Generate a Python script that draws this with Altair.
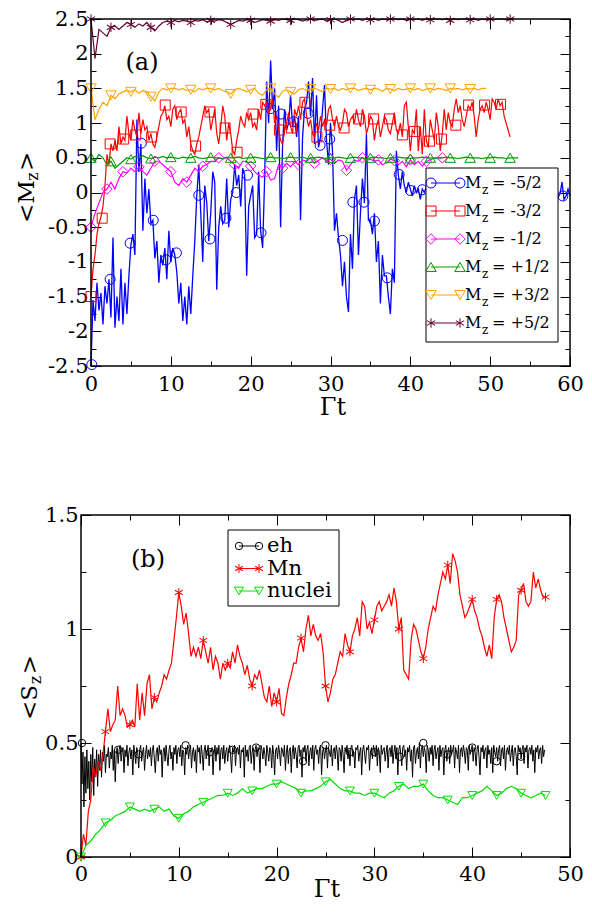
import altair as alt
import numpy as np
import pandas as pd

FONT = "DejaVu Serif"

# ===================== panel (a) data =====================
A_FINE = 0.25   # sampling step of the noisy series
A_STEP = 0.5    # sampling step of the smooth series

a_blue = [
    -2.5, -1.55, -1.85, -1.3,   -1.7, -1.45, -1.9, -1.35,   -1.6, -1.25, -1.8, -0.65,
    -1.95, -1.5, -1.85, -1.1,   -1.9, -1.3, -1.75, -1.2,    -0.75, -0.6, -0.9, 1.05,
    0.3, 0.7, -0.55, 0.2,       -0.3, 0.05, -0.45, -0.4,    -0.95, -0.7, -1.3, -0.9,
    -1.05, -0.8, -1.25, -0.55,  -1.0, -0.8, -0.9, -1.15,    -1.6, -1.3, -1.85, -1.5,
    -1.9, -1.35, -1.75, -1.2,   -0.7, -0.05, 0.4, -0.3,     -1.0, 0.1, -0.15, -0.7,
    -0.3, 0.3, 0.15, -1.4,      -0.5, -0.2, -0.45, -0.4,    0.2, -0.5, -0.1, 0.0,
    0.4, 0.1, 0.25, -0.2,       0.35, 0.25, -1.2, -0.2,     -0.05, 0.1, -0.65, -0.6,
    0.3, -0.55, -0.8, 0.2,      1.6, 1.0, 1.9, 1.2,         1.5, 0.6, 1.25, -0.5,
    0.7, 1.2, 0.9, 1.0,         1.4, 0.95, 1.1, 0.8,        1.1, -0.4, 0.8, 1.2,
    1.3, 1.6, 1.1, 1.65,        0.7, 1.4, 0.65, 0.8,        1.2, 1.55, 0.75, 0.4,
    1.0, 0.6, -0.55, -0.3,      -0.65, -0.9, -1.35, -1.0,   -1.5, -1.72, -0.6, -1.1,
    -0.1, 0.1, -0.9, -0.3,      0.2, -0.15, 0.85, -0.4,     -0.4, -0.6, -0.3, -1.0,
    -0.7, -1.6, -0.9, -1.2,     -1.2, -1.5, -1.75, -1.1,    -1.3, 0.6, 0.25, 0.05,
    0.3, 0.1, 0.0, 0.15,        0.05, -0.05, 0.1, 0.0,      0.05, -0.1, 0.05, 0.0,
    0.08, -0.04, 0.02, 0.06,    -0.02, 0.04, 0.0, -0.06,    0.03, 0.0, -0.04, 0.02,
    0.0, 0.05, -0.03, 0.01,     -0.05, 0.02, 0.0, -0.03,    0.02, -0.02, 0.04, 0.0,
    -0.04, 0.01, -0.02, 0.03,   0.0, -0.05, 0.02, -0.01,    0.03, -0.02, 0.0, -0.04,
    0.01, -0.03, 0.02, 0.0,     -0.02, 0.03, -0.04, 0.0,    0.02, -0.01, 0.0, -0.03,
    0.01, -0.04, 0.02, -0.02,   0.0, -0.03, 0.01, -0.05,    -0.02, 0.0, -0.04, -0.01,
    -0.05, -0.02, -0.06, -0.03, -0.04, 0.0, -0.07, -0.02,   0.15, -0.1, -0.05, 0.05,
    -0.05,
]
a_blue_mk_t = [0.1, 2.4, 4.9, 6.3, 7.8, 9.4, 10.7, 13.5, 14.9, 16.9, 18.2, 19.6, 21.3,
               22.5, 23.8, 25.4, 27.2, 28.7, 29.9, 31.5, 32.8, 34.2, 35.5, 37.1, 38.6,
               40.0, 41.5, 59.1]
a_blue_mk_v = [-2.48, -1.25, -0.73, 0.71, -0.4, -0.97, -0.87, -0.04, -0.67, -0.37, 0.0,
               0.25, -0.58, 1.21, 1.13, 1.02, 1.14, 0.68, 0.77, -0.69, -0.14, -0.14,
               -0.41, -1.23, 0.26, 0.03, 0.04, -0.05]

a_red = [
    -1.5, -1.1, -0.9, -0.6,     -0.45, -0.35, -0.2, 0.1,    0.55, 0.4, 0.7, 0.6,
    0.75, 0.6, 0.95, 0.7,       0.8, 0.75, 1.1, 0.85,       0.75, 1.05, 0.9, 0.8,
    1.15, 0.85, 1.05, 0.9,      0.95, 0.75, 0.85, 0.7,      0.65, 0.8, 0.95, 1.1,
    1.15, 1.25, 1.05, 1.1,      0.95, 1.2, 1.25, 1.05,      1.15, 1.2, 1.0, 1.05,
    0.8, 0.95, 0.7, 0.6,        0.55, 0.7, 0.8, 0.95,       1.1, 1.25, 1.15, 1.2,
    0.9, 1.05, 1.2, 0.85,       0.7, 0.95, 1.25, 1.1,       0.75, 1.0, 0.85, 0.6,
    0.55, 0.75, 0.9, 1.1,       1.0, 0.95, 1.15, 1.05,      1.15, 0.95, 1.0, 0.9,
    1.2, 1.05, 1.3, 1.25,       1.3, 1.15, 1.2, 1.35,       1.0, 1.1, 0.9, 0.75,
    0.7, 0.9, 1.0, 1.15,        0.95, 0.85, 1.2, 1.1,       1.25, 1.05, 1.3, 1.35,
    1.1, 0.95, 1.05, 0.85,      0.8, 1.0, 0.9, 1.1,         0.95, 1.05, 0.97, 1.2,
    1.25, 1.05, 0.95, 1.1,      0.95, 0.9, 1.0, 1.2,        1.15, 0.95, 1.05, 1.1,
    1.0, 1.2, 1.05, 0.95,       1.2, 1.1, 0.85, 0.95,       1.1, 1.05, 0.75, 0.95,
    1.05, 0.8, 0.95, 1.1,       1.05, 0.9, 0.85, 1.0,       1.15, 0.9, 0.85, 1.0,
    0.8, 1.25, 1.3, 0.95,       0.6, 0.9, 0.85, 1.2,        0.6, 0.95, 0.55, 1.2,
    0.75, 0.65, 1.05, 0.9,      0.75, 1.15, 0.95, 0.6,      0.85, 1.2, 0.9, 1.15,
    1.0, 0.95, 1.2, 1.35,       1.15, 1.25, 1.05, 0.95,     1.1, 1.25, 1.2, 1.3,
    1.1, 0.8, 1.05, 1.2,        1.25, 1.15, 1.3, 1.2,       1.05, 1.35, 1.3, 1.2,
    1.35, 1.25, 1.3, 1.1,       1.0, 0.9, 0.8,
]
a_red_mk_t = [0.0, 1.4, 2.4, 4.1, 5.6, 7.6, 9.3, 11.3, 13.1, 14.9, 16.8, 18.3, 20.3, 21.9,
              23.6, 25.1, 26.8, 28.3, 29.9, 31.7, 33.5, 35.4, 37.4, 39.0, 40.5, 42.4,
              43.9, 45.7, 47.3, 49.3, 51.3]
a_red_mk_v = [-1.5, -0.37, 0.7, 0.77, 0.83, 0.8, 1.26, 1.16, 0.67, 1.16, 0.93, 0.58, 1.13,
              1.27, 0.9, 0.93, 1.3, 0.8, 0.97, 0.93, 1.06, 1.06, 1.06, 0.83, 0.88, 0.74,
              0.77, 0.97, 1.26, 1.26, 1.27]

a_magenta = [
    -0.5, -0.3, -0.15, 0.0, 0.05, 0.15, 0.05, 0.2, 0.3, 0.28,
    0.35, 0.3, 0.37, 0.3, 0.25, 0.35, 0.45, 0.45, 0.4, 0.35,
    0.3, 0.15, 0.1, 0.2, 0.15, 0.25, 0.35, 0.3, 0.38, 0.4,
    0.45, 0.45, 0.5, 0.48, 0.5, 0.45, 0.4, 0.35, 0.45, 0.45,
    0.38, 0.3, 0.25, 0.22, 0.3, 0.18, 0.2, 0.4, 0.35, 0.42,
    0.37, 0.45, 0.4, 0.47, 0.45, 0.5, 0.42, 0.46, 0.5, 0.45,
    0.48, 0.42, 0.47, 0.45, 0.32, 0.4, 0.47, 0.45, 0.5, 0.46,
    0.48, 0.45, 0.47, 0.4, 0.43, 0.48, 0.46, 0.4, 0.45, 0.37,
    0.47, 0.4, 0.45, 0.38, 0.45, 0.47, 0.5, 0.5, 0.5,
]
a_green = [
    0.5, 0.45, 0.55, 0.5, 0.4, 0.45, 0.35, 0.4, 0.45, 0.5,
    0.48, 0.52, 0.5, 0.53, 0.5, 0.49, 0.51, 0.5, 0.52, 0.5,
    0.51, 0.5, 0.49, 0.51, 0.5, 0.5, 0.52, 0.5, 0.49, 0.5,
    0.51, 0.5, 0.5, 0.49, 0.51, 0.5, 0.5, 0.51, 0.49, 0.5,
    0.5, 0.51, 0.5, 0.49, 0.5, 0.51, 0.5, 0.5, 0.49, 0.5,
    0.51, 0.5, 0.5, 0.51, 0.49, 0.5, 0.5, 0.51, 0.5, 0.49,
    0.5, 0.5, 0.51, 0.5, 0.49, 0.5, 0.51, 0.5, 0.5, 0.49,
    0.5, 0.51, 0.5, 0.5, 0.49, 0.5, 0.5, 0.51, 0.5, 0.5,
    0.49, 0.5, 0.5, 0.51, 0.5, 0.5, 0.49, 0.5, 0.5, 0.51,
    0.5, 0.5, 0.49, 0.5, 0.51, 0.5, 0.5, 0.5, 0.49, 0.5,
    0.5, 0.51, 0.5, 0.5, 0.49, 0.5, 0.5, 0.5,
]
a_orange = [
    1.5, 1.05, 1.2, 1.3, 1.25, 1.4, 1.35, 1.42, 1.45, 1.47,
    1.45, 1.48, 1.43, 1.47, 1.45, 1.38, 1.32, 1.45, 1.5, 1.48,
    1.5, 1.5, 1.48, 1.5, 1.47, 1.48, 1.45, 1.5, 1.48, 1.5,
    1.5, 1.48, 1.5, 1.47, 1.45, 1.42, 1.48, 1.5, 1.48, 1.45,
    1.48, 1.5, 1.43, 1.4, 1.48, 1.5, 1.42, 1.37, 1.46, 1.48,
    1.45, 1.42, 1.48, 1.5, 1.47, 1.49, 1.5, 1.48, 1.45, 1.5,
    1.49, 1.5, 1.47, 1.5, 1.48, 1.5, 1.5, 1.47, 1.49, 1.5,
    1.48, 1.5, 1.49, 1.46, 1.5, 1.49, 1.47, 1.5, 1.48, 1.49,
    1.5, 1.48, 1.5, 1.47, 1.49, 1.5, 1.48, 1.5, 1.49, 1.47,
    1.5, 1.49, 1.5, 1.48, 1.5, 1.49, 1.5, 1.48, 1.5, 1.5,
]
a_purple = [
    2.5, 1.93, 2.35, 2.3, 2.25, 2.38, 2.4, 2.35, 2.4, 2.45,
    2.42, 2.38, 2.43, 2.4, 2.45, 2.38, 2.33, 2.4, 2.45, 2.47,
    2.45, 2.48, 2.46, 2.48, 2.47, 2.45, 2.48, 2.47, 2.49, 2.46,
    2.48, 2.47, 2.49, 2.48, 2.45, 2.42, 2.45, 2.48, 2.47, 2.49,
    2.48, 2.45, 2.47, 2.49, 2.48, 2.47, 2.49, 2.48, 2.5, 2.49,
    2.48, 2.5, 2.49, 2.47, 2.49, 2.5, 2.48, 2.49, 2.5, 2.47,
    2.49, 2.5, 2.48, 2.45, 2.48, 2.5, 2.49, 2.5, 2.48, 2.5,
    2.49, 2.5, 2.48, 2.5, 2.49, 2.5, 2.5, 2.49, 2.5, 2.48,
    2.5, 2.49, 2.5, 2.48, 2.5, 2.49, 2.5, 2.5, 2.49, 2.5,
    2.48, 2.5, 2.49, 2.5, 2.5, 2.49, 2.5, 2.48, 2.5, 2.49,
    2.5, 2.49, 2.5, 2.5, 2.49, 2.5, 2.5,
]
a_labels = ["= -5/2", "= -3/2", "= -1/2", "= +1/2", "= +3/2", "= +5/2"]
a_x_major = [0, 10, 20, 30, 40, 50, 60]
a_x_minor = [5, 15, 25, 35, 45, 55]
a_y_major = [-2.5, -2, -1.5, -1, -0.5, 0, 0.5, 1, 1.5, 2, 2.5]
a_y_minor = [-2.25, -1.75, -1.25, -0.75, -0.25, 0.25, 0.75, 1.25, 1.75, 2.25]

# ===================== panel (b) data =====================
B_EH = 0.1
B_MN = 0.25
B_NU = 0.5
b_eh = [
    0.5, 0.32, 0.46, 0.22, 0.44, 0.28, 0.47, 0.3, 0.42, 0.25,
    0.45, 0.33, 0.48, 0.27, 0.43, 0.36, 0.47, 0.31, 0.45, 0.38,
    0.47, 0.35, 0.46, 0.42, 0.49, 0.37, 0.45, 0.44, 0.48, 0.39,
    0.46, 0.43, 0.49, 0.38, 0.47, 0.33, 0.45, 0.48, 0.41, 0.47,
    0.49, 0.42, 0.46, 0.48, 0.37, 0.47, 0.44, 0.49, 0.4, 0.46,
    0.48, 0.43, 0.47, 0.36, 0.49, 0.45, 0.41, 0.48, 0.46, 0.39,
    0.47, 0.49, 0.42, 0.46, 0.48, 0.38, 0.45, 0.49, 0.43, 0.47,
    0.44, 0.48, 0.4, 0.47, 0.49, 0.43, 0.37, 0.46, 0.48, 0.42,
    0.49, 0.45, 0.47, 0.35, 0.46, 0.48, 0.42, 0.49, 0.44, 0.4,
    0.47, 0.49, 0.43, 0.46, 0.38, 0.48, 0.45, 0.49, 0.41, 0.47,
    0.48, 0.44, 0.49, 0.4, 0.47, 0.46, 0.36, 0.48, 0.45, 0.49,
    0.43, 0.47, 0.49, 0.39, 0.46, 0.48, 0.42, 0.47, 0.37, 0.49,
    0.46, 0.48, 0.41, 0.49, 0.45, 0.38, 0.47, 0.49, 0.43, 0.46,
    0.49, 0.4, 0.47, 0.46, 0.48, 0.36, 0.45, 0.49, 0.42, 0.48,
    0.45, 0.49, 0.38, 0.47, 0.48, 0.43, 0.49, 0.41, 0.46, 0.48,
    0.42, 0.47, 0.49, 0.44, 0.37, 0.48, 0.46, 0.49, 0.4, 0.47,
    0.48, 0.45, 0.49, 0.39, 0.47, 0.46, 0.48, 0.35, 0.49, 0.44,
    0.47, 0.42, 0.48, 0.49, 0.41, 0.46, 0.48, 0.38, 0.47, 0.49,
    0.44, 0.48, 0.46, 0.37, 0.49, 0.47, 0.43, 0.48, 0.45, 0.4,
    0.49, 0.46, 0.42, 0.48, 0.47, 0.39, 0.49, 0.45, 0.36, 0.47,
    0.48, 0.43, 0.49, 0.46, 0.4, 0.48, 0.47, 0.44, 0.49, 0.38,
    0.46, 0.49, 0.41, 0.47, 0.48, 0.37, 0.46, 0.49, 0.43, 0.48,
    0.45, 0.39, 0.48, 0.49, 0.44, 0.47, 0.35, 0.48, 0.46, 0.49,
    0.42, 0.47, 0.49, 0.4, 0.46, 0.48, 0.43, 0.49, 0.38, 0.47,
    0.49, 0.45, 0.47, 0.41, 0.48, 0.49, 0.36, 0.46, 0.48, 0.43,
    0.47, 0.49, 0.39, 0.48, 0.46, 0.44, 0.49, 0.4, 0.47, 0.48,
    0.43, 0.49, 0.46, 0.38, 0.48, 0.47, 0.42, 0.49, 0.45, 0.37,
    0.48, 0.46, 0.49, 0.43, 0.47, 0.4, 0.48, 0.49, 0.44, 0.46,
    0.39, 0.48, 0.47, 0.49, 0.42, 0.46, 0.48, 0.36, 0.47, 0.49,
    0.45, 0.41, 0.48, 0.47, 0.49, 0.38, 0.46, 0.48, 0.43, 0.49,
    0.47, 0.44, 0.49, 0.4, 0.48, 0.46, 0.37, 0.49, 0.45, 0.47,
    0.48, 0.42, 0.46, 0.49, 0.39, 0.47, 0.48, 0.44, 0.49, 0.41,
    0.46, 0.49, 0.43, 0.48, 0.36, 0.47, 0.49, 0.45, 0.4, 0.48,
    0.49, 0.44, 0.47, 0.38, 0.48, 0.46, 0.49, 0.42, 0.47, 0.35,
    0.48, 0.49, 0.41, 0.46, 0.48, 0.43, 0.5, 0.39, 0.47, 0.49,
    0.44, 0.48, 0.46, 0.37, 0.49, 0.47, 0.42, 0.48, 0.45, 0.49,
    0.4, 0.47, 0.49, 0.43, 0.46, 0.48, 0.38, 0.49, 0.44, 0.47,
    0.48, 0.36, 0.47, 0.49, 0.42, 0.46, 0.48, 0.41, 0.49, 0.45,
    0.47, 0.49, 0.39, 0.48, 0.46, 0.43, 0.49, 0.37, 0.47, 0.48,
    0.44, 0.49, 0.46, 0.41, 0.48, 0.47, 0.38, 0.49, 0.45, 0.47,
    0.49, 0.42, 0.48, 0.46, 0.4, 0.47, 0.49, 0.44, 0.36, 0.48,
    0.46, 0.49, 0.43, 0.47, 0.48, 0.39, 0.49, 0.45, 0.47, 0.41,
    0.48, 0.37, 0.49, 0.46, 0.44, 0.48, 0.42, 0.47, 0.49, 0.4,
    0.47, 0.48, 0.43, 0.49, 0.38, 0.46, 0.48, 0.45, 0.49, 0.42,
    0.46, 0.49, 0.4, 0.47, 0.48, 0.44, 0.36, 0.49, 0.46, 0.48,
    0.43, 0.47, 0.49, 0.41, 0.48, 0.46, 0.49, 0.39, 0.47, 0.48,
    0.45, 0.49, 0.42, 0.47, 0.37, 0.48, 0.46, 0.49, 0.43, 0.47,
    0.48, 0.41, 0.49, 0.44, 0.47,
]
b_eh_mk_t = [0.1, 3.8, 5.9, 10.7, 13.2, 15.5, 17.9, 22.7, 25.0, 27.5, 30.0, 32.6, 35.0,
             37.5, 40.0, 42.5, 45.0]
b_eh_mk_v = [0.5, 0.47, 0.45, 0.49, 0.46, 0.47, 0.48, 0.42, 0.49, 0.46, 0.46, 0.44, 0.5,
             0.45, 0.48, 0.42, 0.44]
b_mn = [
    0.0, 0.1, 0.05, 0.2,     0.25, 0.4, 0.35, 0.42,    0.38, 0.45, 0.55, 0.65,
    0.55, 0.58, 0.6, 0.75,   0.62, 0.65, 0.62, 0.57,   0.58, 0.6, 0.57, 0.76,
    0.6, 0.72, 0.62, 0.76,   0.8, 0.65, 0.7, 0.68,     0.72, 0.75, 0.8, 0.78,
    0.82, 0.85, 0.95, 1.05,  1.16, 1.1, 1.02, 1.07,    0.98, 0.88, 0.92, 0.88,
    0.92, 0.87, 0.95, 0.9,   0.85, 0.92, 0.82, 0.88,   0.85, 0.78, 0.85, 0.82,
    0.85, 0.83, 0.9, 0.85,   0.93, 0.88, 0.85, 0.8,    0.84, 0.78, 0.75, 0.8,
    0.78, 0.82, 0.76, 0.7,   0.68, 0.75, 0.66, 0.72,   0.68, 0.74, 0.63, 0.62,
    0.7, 0.76, 0.8, 0.85,    0.85, 0.92, 0.96, 0.9,    1.0, 1.06, 0.97, 1.02,
    0.97, 0.95, 0.98, 0.9,   0.75, 0.68, 0.72, 0.78,   0.8, 0.85, 0.9, 0.88,
    0.98, 0.93, 0.9, 0.97,   1.0, 1.05, 0.97, 1.12,    1.1, 1.0, 1.03, 0.98,
    1.04, 1.1, 1.12, 1.08,   1.1, 1.12, 1.15, 1.1,     1.18, 1.12, 1.0, 1.05,
    0.82, 0.8, 0.78, 0.95,   1.02, 1.0, 0.95, 0.9,     0.87, 0.92, 1.0, 1.05,
    1.1, 1.08, 1.15, 1.2,    1.25, 1.22, 1.28, 1.2,    1.33, 1.3, 1.25, 1.15,
    1.1, 1.05, 1.07, 1.1,    1.13, 1.08, 1.05, 1.0,    0.97, 0.92, 0.88, 0.93,
    0.87, 1.05, 1.13, 1.15,  1.12, 1.05, 1.0, 0.95,    0.9, 0.92, 0.95, 1.15,
    1.17, 1.2, 1.12, 1.1,    1.12, 1.25, 1.18, 1.22,   1.17, 1.14, 1.14,
]
b_nuclei = [
    0.0, 0.05, 0.07, 0.1, 0.12, 0.15, 0.16, 0.18, 0.19, 0.2,
    0.22, 0.21, 0.2, 0.21, 0.2, 0.21, 0.22, 0.2, 0.21, 0.18,
    0.17, 0.19, 0.2, 0.22, 0.23, 0.24, 0.25, 0.26, 0.27, 0.27,
    0.28, 0.27, 0.28, 0.3, 0.28, 0.29, 0.3, 0.3, 0.31, 0.32,
    0.32, 0.33, 0.32, 0.31, 0.3, 0.28, 0.29, 0.29, 0.3, 0.31,
    0.33, 0.34, 0.32, 0.3, 0.29, 0.29, 0.28, 0.28, 0.27, 0.28,
    0.28, 0.27, 0.26, 0.28, 0.29, 0.31, 0.32, 0.3, 0.31, 0.31,
    0.32, 0.29, 0.27, 0.26, 0.26, 0.25, 0.24, 0.23, 0.26, 0.26,
    0.27, 0.28, 0.29, 0.31, 0.29, 0.27, 0.28, 0.3, 0.31, 0.3,
    0.28, 0.27, 0.26, 0.27, 0.28, 0.27,
]
b_labels = ["eh", "Mn", "nuclei"]
b_x_major = [0, 10, 20, 30, 40, 50]
b_x_minor = [5, 15, 25, 35, 45]
b_y_major = [0, 0.5, 1, 1.5]
b_y_minor = [0.25, 0.75, 1.25]

# ===================== styles / layout =====================
A_COLORS = ["#0000ff", "#ff0000", "#ff00ff", "#009a00", "#ffa500", "#660033"]
A_SHAPES = ["circle", "square", "diamond", "triangle-up", "triangle-down", "star"]
A_SIZES = [100, 100, 110, 110, 110, 90]
B_COLORS = ["#000000", "#ff0000", "#00e000"]
B_SHAPES = ["circle", "star", "triangle-down"]
B_SIZES = [55, 80, 80]
STAR_ANGLES = [90, 30, 330]

W, H = 576, 896                      # whole drawing, pixels
A_X, A_Y = [83, 562], [358, 11]      # panel (a) plot-area pixel ranges
B_X, B_Y = [73, 562], [849, 507]     # panel (b) plot-area pixel ranges
TICK, MTICK = 10, 5
LAB_FS = 21

ONE = pd.DataFrame({"k": [0]})


def sdf(vals, step):
    return pd.DataFrame({"t": np.arange(len(vals)) * step, "v": vals})


def scales(xdom, ydom, xr, yr):
    return (alt.Scale(domain=xdom, range=xr, nice=False, zero=False),
            alt.Scale(domain=ydom, range=yr, nice=False, zero=False))


def line(df, xs, ys, color, w=1.2):
    return alt.Chart(df).mark_line(color=color, strokeWidth=w).encode(
        x=alt.X("t:Q", scale=xs, axis=None), y=alt.Y("v:Q", scale=ys, axis=None))


def _shapes(shape):
    return [("stroke", a) for a in STAR_ANGLES] if shape == "star" else [(shape, 0)]


def marks(df, xs, ys, color, shape, size):
    out = []
    for shp, ang in _shapes(shape):
        kw = dict(color=color, shape=shp, size=size, filled=False, opacity=1, strokeWidth=1)
        if ang:
            kw["angle"] = ang
        out.append(alt.Chart(df).mark_point(**kw).encode(
            x=alt.X("t:Q", scale=xs, axis=None), y=alt.Y("v:Q", scale=ys, axis=None)))
    return out


def legend_marks(x, y, color, shape, size):
    out = []
    for shp, ang in _shapes(shape):
        kw = dict(color=color, shape=shp, size=size, filled=False, opacity=1, strokeWidth=1)
        if ang:
            kw["angle"] = ang
        out.append(alt.Chart(ONE).mark_point(**kw).encode(x=alt.value(x), y=alt.value(y)))
    return out


def axes(xs, ys, xr, yr, xdom, ydom, xmaj, xmin, ymaj, ymin, lpad):
    """Inward ticks on all four sides, drawn with axes moved inside the plot."""
    base = alt.Chart(pd.DataFrame({"t": [xdom[0]], "v": [ydom[0]]})).mark_point(opacity=0)
    lab = dict(labelFont=FONT, labelFontSize=LAB_FS, labelColor="black",
               labelExpr="'' + datum.value", labelFlush=False, labelOverlap=False)
    com = dict(domain=False, grid=False, tickColor="black", tickWidth=1, title=None)
    left, right = xr
    bot, top = yr
    out = []
    for size, labelled in ((TICK, True), (MTICK, False)):
        xv = xmaj if labelled else xmin
        yv = ymaj if labelled else ymin
        extra = lab if labelled else dict(labels=False)
        out.append(base.encode(
            x=alt.X("t:Q", scale=xs, axis=alt.Axis(
                orient="bottom", values=xv, tickSize=size, offset=(bot - size) - H,
                labelPadding=lpad, **extra, **com)),
            y=alt.Y("v:Q", scale=ys, axis=alt.Axis(
                orient="left", values=yv, tickSize=size, offset=-(left + size),
                labelPadding=3, **extra, **com))))
        out.append(base.encode(
            x=alt.X("t:Q", scale=xs, axis=alt.Axis(
                orient="top", values=xv, tickSize=size, offset=-(top + size),
                labels=False, **com)),
            y=alt.Y("v:Q", scale=ys, axis=alt.Axis(
                orient="right", values=yv, tickSize=size, offset=(right - size) - W,
                labels=False, **com))))
    return out


def frame(xr, yr):
    return alt.Chart(ONE).mark_rect(fillOpacity=0, stroke="black", strokeWidth=1.5).encode(
        x=alt.value(xr[0]), x2=alt.value(xr[1]), y=alt.value(yr[1]), y2=alt.value(yr[0]))


def text(s, x, y, fs, align="left", baseline="middle", angle=0, dx=0, dy=0):
    kw = dict(text=s, font=FONT, fontSize=fs, color="black", align=align,
              baseline=baseline, dx=dx, dy=dy)
    if angle:
        kw["angle"] = angle
    return alt.Chart(ONE).mark_text(**kw).encode(x=alt.value(x), y=alt.value(y))


def ytitle(main, main_em, xb, ystart, fs=23, sfs=16):
    w1 = main_em * fs
    w2 = 0.56 * sfs
    return [
        text(main, xb, ystart, fs, baseline="alphabetic", angle=270),
        text("z", xb, ystart, sfs, baseline="alphabetic", angle=270, dx=w1, dy=4),
        text(">", xb, ystart, fs, baseline="alphabetic", angle=270, dx=w1 + w2 + 1),
    ]


layers = []

# ===================== panel (a) =====================
xa, ya = scales([0, 60], [-2.5, 2.5], A_X, A_Y)
layers += axes(xa, ya, A_X, A_Y, [0, 60], [-2.5, 2.5], a_x_major, a_x_minor,
               a_y_major, a_y_minor, 7)

blue = sdf(a_blue, A_FINE)
blue_mk = pd.DataFrame({"t": a_blue_mk_t, "v": a_blue_mk_v})
red = sdf(a_red, A_FINE)
red_mk = pd.DataFrame({"t": a_red_mk_t, "v": a_red_mk_v})
layers += [line(blue, xa, ya, A_COLORS[0], 1.3)] + marks(blue_mk, xa, ya, A_COLORS[0], A_SHAPES[0], A_SIZES[0])
layers += [line(red, xa, ya, A_COLORS[1])] + marks(red_mk, xa, ya, A_COLORS[1], A_SHAPES[1], A_SIZES[1])
for vals, k, every in [(a_magenta, 2, 4), (a_green, 3, 5), (a_orange, 4, 5), (a_purple, 5, 5)]:
    d = sdf(vals, A_STEP)
    layers += [line(d, xa, ya, A_COLORS[k])] + marks(d.iloc[::every], xa, ya, A_COLORS[k], A_SHAPES[k], A_SIZES[k])
layers.append(frame(A_X, A_Y))

layers.append(alt.Chart(ONE).mark_rect(fill="white", stroke="black", strokeWidth=1).encode(
    x=alt.value(418), x2=alt.value(550), y=alt.value(160), y2=alt.value(334)))
for i, lab in enumerate(a_labels):
    yy = 175 + 28 * i
    c = A_COLORS[i]
    layers.append(alt.Chart(ONE).mark_rule(color=c, strokeWidth=1).encode(
        x=alt.value(423), x2=alt.value(452), y=alt.value(yy)))
    for xx in (423, 452):
        layers += legend_marks(xx, yy, c, A_SHAPES[i], A_SIZES[i])
    layers.append(text("M", 457, yy, 16))
    layers.append(text("z", 474, yy + 7, 12))
    layers.append(text(lab, 484, yy, 16))

layers.append(text("(a)", 134, 55, 24, align="center"))
layers += ytitle("<M", 1.833, 25.5, 215)
layers.append(text("Γt", 325, 407, 24, align="center", baseline="alphabetic"))

# ===================== panel (b) =====================
xb, yb = scales([0, 50], [0, 1.5], B_X, B_Y)
layers += axes(xb, yb, B_X, B_Y, [0, 50], [0, 1.5], b_x_major, b_x_minor,
               b_y_major, b_y_minor, 6)

eh = sdf(b_eh, B_EH)
eh_mk = pd.DataFrame({"t": b_eh_mk_t, "v": b_eh_mk_v})
mn = sdf(b_mn, B_MN)
nu = sdf(b_nuclei, B_NU)
layers += [line(eh, xb, yb, B_COLORS[0], 1.0)] + marks(eh_mk, xb, yb, B_COLORS[0], B_SHAPES[0], B_SIZES[0])
layers += [line(mn, xb, yb, B_COLORS[1])] + marks(mn.iloc[::10], xb, yb, B_COLORS[1], B_SHAPES[1], B_SIZES[1])
layers += [line(nu, xb, yb, B_COLORS[2])] + marks(nu.iloc[::5], xb, yb, B_COLORS[2], B_SHAPES[2], B_SIZES[2])
layers.append(frame(B_X, B_Y))

layers.append(alt.Chart(ONE).mark_rect(fill="white", stroke="black", strokeWidth=1).encode(
    x=alt.value(220), x2=alt.value(331), y=alt.value(522), y2=alt.value(598)))
for i, lab in enumerate(b_labels):
    yy = 538 + 22.5 * i
    c = B_COLORS[i]
    layers.append(alt.Chart(ONE).mark_rule(color=c, strokeWidth=1).encode(
        x=alt.value(231), x2=alt.value(251), y=alt.value(yy)))
    for xx in (231, 251):
        layers += legend_marks(xx, yy, c, B_SHAPES[i], B_SIZES[i])
    layers.append(text(lab, 259, yy, 21))

layers.append(text("(b)", 140, 552, 24, align="center"))
layers += ytitle("<S", 1.558, 29, 712)
layers.append(text("Γt", 319, 889, 24, align="center", baseline="alphabetic"))

chart = alt.layer(*layers).resolve_scale(
    x="independent", y="independent"
).resolve_axis(
    x="independent", y="independent"
).properties(
    width=W, height=H, padding=0, autosize=alt.AutoSizeParams(type="none")
).configure_view(strokeWidth=0)

chart.save("out.html", embed_options={"renderer": "svg", "actions": False})
